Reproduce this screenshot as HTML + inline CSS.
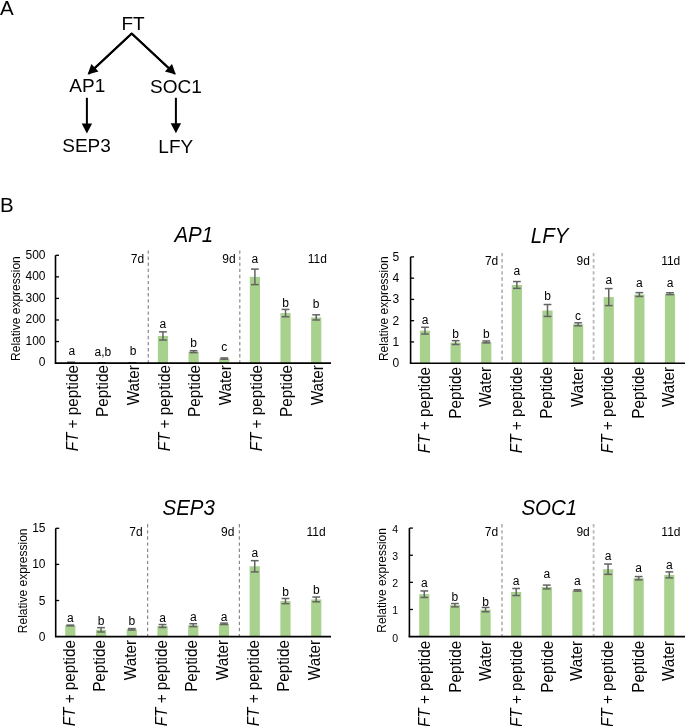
<!DOCTYPE html>
<html><head><meta charset="utf-8"><style>
html,body{margin:0;padding:0;background:#fff;}
body{width:685px;height:726px;overflow:hidden;}
svg{display:block;font-family:"Liberation Sans", sans-serif;will-change:transform;}
</style></head><body>
<svg width="685" height="726" viewBox="0 0 685 726">
<rect width="685" height="726" fill="#fff"/>
<text x="0" y="14.5" text-anchor="start" style="font-size:20.5px;" fill="#000">A</text>
<text x="0" y="211.8" text-anchor="start" style="font-size:20.5px;" fill="#000">B</text>
<text x="133.1" y="29.7" text-anchor="middle" style="font-size:19px;" fill="#000">FT</text>
<text x="87.3" y="92.3" text-anchor="middle" style="font-size:19px;" fill="#000">AP1</text>
<text x="175.9" y="92.5" text-anchor="middle" style="font-size:19px;" fill="#000">SOC1</text>
<text x="86.5" y="152.3" text-anchor="middle" style="font-size:19px;" fill="#000">SEP3</text>
<text x="175.8" y="153.0" text-anchor="middle" style="font-size:19px;" fill="#000">LFY</text>
<path d="M88.5,74 L131.7,33.6 L175,74" fill="none" stroke="#000" stroke-width="2" stroke-linejoin="miter" stroke-miterlimit="10" />
<line x1="131.7" y1="33.6" x2="94.19141381189735" y2="68.4719282020909" stroke="#000" stroke-width="2" stroke-linecap="butt"/>
<polygon points="87.6,74.6 91.3831294188718,63.982658911004755 98.46445682978897,71.59940376030836" fill="#000"/>
<line x1="131.7" y1="33.6" x2="169.20858618810266" y2="68.4719282020909" stroke="#000" stroke-width="2" stroke-linecap="butt"/>
<polygon points="175.8,74.6 164.93554317021102,71.59940376030836 172.01687058112822,63.982658911004755" fill="#000"/>
<line x1="86.9" y1="97.8" x2="86.9" y2="124.4" stroke="#000" stroke-width="2" stroke-linecap="butt"/>
<polygon points="86.9,133.4 81.7,123.4 92.10000000000001,123.4" fill="#000"/>
<line x1="175.9" y1="97.8" x2="175.9" y2="124.30000000000001" stroke="#000" stroke-width="2" stroke-linecap="butt"/>
<polygon points="175.9,133.3 170.70000000000002,123.30000000000001 181.1,123.30000000000001" fill="#000"/>
<text x="0" y="0" text-anchor="middle" style="font-size:20.5px;font-style:italic;" fill="#000" transform="translate(193.8 241.5) scale(1 1.06)">AP1</text>
<text x="19.8" y="308.6" text-anchor="middle" style="font-size:12px;" fill="#000" transform="rotate(-90 19.8 308.6)">Relative expression</text>
<line x1="148.3" y1="250.4" x2="148.3" y2="363.1" stroke="#8a8a8a" stroke-width="1.2" stroke-dasharray="3.4,2.7"/>
<line x1="239.8" y1="250.4" x2="239.8" y2="363.1" stroke="#8a8a8a" stroke-width="1.2" stroke-dasharray="3.4,2.7"/>
<rect x="65.90" y="362.45" width="10.2" height="0.65" fill="#a9d18e"/>
<line x1="71.00" y1="362.24" x2="71.00" y2="362.67" stroke="#636363" stroke-width="1.5"/>
<line x1="67.10" y1="362.24" x2="74.90" y2="362.24" stroke="#636363" stroke-width="1.5"/>
<line x1="67.10" y1="362.67" x2="74.90" y2="362.67" stroke="#636363" stroke-width="1.5"/>
<text x="71.90" y="354.7" text-anchor="middle" style="font-size:12px;" fill="#000">a</text>
<text x="0" y="0" text-anchor="end" style="font-size:15.3px;" fill="#000" transform="translate(77.70 365.10) rotate(-90) scale(1 1.05)"><tspan style="font-style:italic">FT</tspan> + peptide</text>
<rect x="96.55" y="362.88" width="10.2" height="0.22" fill="#a9d18e"/>
<line x1="101.65" y1="362.78" x2="101.65" y2="362.99" stroke="#636363" stroke-width="1.5"/>
<line x1="97.75" y1="362.78" x2="105.55" y2="362.78" stroke="#636363" stroke-width="1.5"/>
<line x1="97.75" y1="362.99" x2="105.55" y2="362.99" stroke="#636363" stroke-width="1.5"/>
<text x="102.95" y="355.5" text-anchor="middle" style="font-size:12px;" fill="#000">a,b</text>
<text x="0" y="0" text-anchor="end" style="font-size:15.3px;" fill="#000" transform="translate(108.35 365.10) rotate(-90) scale(1 1.05)">Peptide</text>
<rect x="127.20" y="362.88" width="10.2" height="0.22" fill="#a9d18e"/>
<line x1="132.30" y1="362.78" x2="132.30" y2="362.99" stroke="#636363" stroke-width="1.5"/>
<line x1="128.40" y1="362.78" x2="136.20" y2="362.78" stroke="#636363" stroke-width="1.5"/>
<line x1="128.40" y1="362.99" x2="136.20" y2="362.99" stroke="#636363" stroke-width="1.5"/>
<text x="133.10" y="354.7" text-anchor="middle" style="font-size:12px;" fill="#000">b</text>
<text x="0" y="0" text-anchor="end" style="font-size:15.3px;" fill="#000" transform="translate(139.00 365.10) rotate(-90) scale(1 1.05)">Water</text>
<rect x="157.85" y="335.93" width="10.2" height="27.17" fill="#a9d18e"/>
<line x1="162.95" y1="331.84" x2="162.95" y2="340.03" stroke="#636363" stroke-width="1.5"/>
<line x1="159.05" y1="331.84" x2="166.85" y2="331.84" stroke="#636363" stroke-width="1.5"/>
<line x1="159.05" y1="340.03" x2="166.85" y2="340.03" stroke="#636363" stroke-width="1.5"/>
<text x="162.95" y="328.09999999999997" text-anchor="middle" style="font-size:12px;" fill="#000">a</text>
<text x="0" y="0" text-anchor="end" style="font-size:15.3px;" fill="#000" transform="translate(169.65 365.10) rotate(-90) scale(1 1.05)"><tspan style="font-style:italic">FT</tspan> + peptide</text>
<rect x="188.50" y="351.67" width="10.2" height="11.43" fill="#a9d18e"/>
<line x1="193.60" y1="350.70" x2="193.60" y2="352.64" stroke="#636363" stroke-width="1.5"/>
<line x1="189.70" y1="350.70" x2="197.50" y2="350.70" stroke="#636363" stroke-width="1.5"/>
<line x1="189.70" y1="352.64" x2="197.50" y2="352.64" stroke="#636363" stroke-width="1.5"/>
<text x="193.60" y="346.5" text-anchor="middle" style="font-size:12px;" fill="#000">b</text>
<text x="0" y="0" text-anchor="end" style="font-size:15.3px;" fill="#000" transform="translate(200.30 365.10) rotate(-90) scale(1 1.05)">Peptide</text>
<rect x="219.15" y="358.57" width="10.2" height="4.53" fill="#a9d18e"/>
<line x1="224.25" y1="357.93" x2="224.25" y2="359.22" stroke="#636363" stroke-width="1.5"/>
<line x1="220.35" y1="357.93" x2="228.15" y2="357.93" stroke="#636363" stroke-width="1.5"/>
<line x1="220.35" y1="359.22" x2="228.15" y2="359.22" stroke="#636363" stroke-width="1.5"/>
<text x="224.25" y="351.0" text-anchor="middle" style="font-size:12px;" fill="#000">c</text>
<text x="0" y="0" text-anchor="end" style="font-size:15.3px;" fill="#000" transform="translate(230.95 365.10) rotate(-90) scale(1 1.05)">Water</text>
<rect x="249.80" y="276.86" width="10.2" height="86.24" fill="#a9d18e"/>
<line x1="254.90" y1="269.10" x2="254.90" y2="284.62" stroke="#636363" stroke-width="1.5"/>
<line x1="251.00" y1="269.10" x2="258.80" y2="269.10" stroke="#636363" stroke-width="1.5"/>
<line x1="251.00" y1="284.62" x2="258.80" y2="284.62" stroke="#636363" stroke-width="1.5"/>
<text x="254.90" y="263.09999999999997" text-anchor="middle" style="font-size:12px;" fill="#000">a</text>
<text x="0" y="0" text-anchor="end" style="font-size:15.3px;" fill="#000" transform="translate(261.60 365.10) rotate(-90) scale(1 1.05)"><tspan style="font-style:italic">FT</tspan> + peptide</text>
<rect x="280.45" y="313.08" width="10.2" height="50.02" fill="#a9d18e"/>
<line x1="285.55" y1="309.42" x2="285.55" y2="316.75" stroke="#636363" stroke-width="1.5"/>
<line x1="281.65" y1="309.42" x2="289.45" y2="309.42" stroke="#636363" stroke-width="1.5"/>
<line x1="281.65" y1="316.75" x2="289.45" y2="316.75" stroke="#636363" stroke-width="1.5"/>
<text x="285.55" y="306.7" text-anchor="middle" style="font-size:12px;" fill="#000">b</text>
<text x="0" y="0" text-anchor="end" style="font-size:15.3px;" fill="#000" transform="translate(292.25 365.10) rotate(-90) scale(1 1.05)">Peptide</text>
<rect x="311.10" y="317.39" width="10.2" height="45.71" fill="#a9d18e"/>
<line x1="316.20" y1="314.81" x2="316.20" y2="319.98" stroke="#636363" stroke-width="1.5"/>
<line x1="312.30" y1="314.81" x2="320.10" y2="314.81" stroke="#636363" stroke-width="1.5"/>
<line x1="312.30" y1="319.98" x2="320.10" y2="319.98" stroke="#636363" stroke-width="1.5"/>
<text x="316.20" y="307.7" text-anchor="middle" style="font-size:12px;" fill="#000">b</text>
<text x="0" y="0" text-anchor="end" style="font-size:15.3px;" fill="#000" transform="translate(322.90 365.10) rotate(-90) scale(1 1.05)">Water</text>
<line x1="55.5" y1="255.3" x2="55.5" y2="363.6" stroke="#000" stroke-width="1.6"/>
<line x1="54.8" y1="363.1" x2="331" y2="363.1" stroke="#000" stroke-width="1.6"/>
<text x="45.5" y="366.30" text-anchor="end" style="font-size:12px;" fill="#000">0</text>
<line x1="55.5" y1="341.54" x2="59.0" y2="341.54" stroke="#000" stroke-width="1.3"/>
<text x="45.5" y="344.74" text-anchor="end" style="font-size:12px;" fill="#000">100</text>
<line x1="55.5" y1="319.98" x2="59.0" y2="319.98" stroke="#000" stroke-width="1.3"/>
<text x="45.5" y="323.18" text-anchor="end" style="font-size:12px;" fill="#000">200</text>
<line x1="55.5" y1="298.42" x2="59.0" y2="298.42" stroke="#000" stroke-width="1.3"/>
<text x="45.5" y="301.62" text-anchor="end" style="font-size:12px;" fill="#000">300</text>
<line x1="55.5" y1="276.86" x2="59.0" y2="276.86" stroke="#000" stroke-width="1.3"/>
<text x="45.5" y="280.06" text-anchor="end" style="font-size:12px;" fill="#000">400</text>
<line x1="55.5" y1="255.30" x2="59.0" y2="255.30" stroke="#000" stroke-width="1.3"/>
<text x="45.5" y="258.50" text-anchor="end" style="font-size:12px;" fill="#000">500</text>
<text x="144.2" y="263.3" text-anchor="end" style="font-size:12px;" fill="#000">7d</text>
<text x="235.7" y="263.3" text-anchor="end" style="font-size:12px;" fill="#000">9d</text>
<text x="326.9" y="263.3" text-anchor="end" style="font-size:12px;" fill="#000">11d</text>
<text x="0" y="0" text-anchor="middle" style="font-size:20.5px;font-style:italic;" fill="#000" transform="translate(549.6 242.6) scale(1 1.06)">LFY</text>
<text x="387.8" y="308.75" text-anchor="middle" style="font-size:12px;" fill="#000" transform="rotate(-90 387.8 308.75)">Relative expression</text>
<line x1="502.1" y1="252.9" x2="502.1" y2="363.2" stroke="#b8b8b8" stroke-width="1.8" stroke-dasharray="3.4,2.7"/>
<line x1="593.6" y1="252.9" x2="593.6" y2="363.2" stroke="#b8b8b8" stroke-width="1.8" stroke-dasharray="3.4,2.7"/>
<rect x="419.90" y="330.67" width="10.2" height="32.53" fill="#a9d18e"/>
<line x1="425.00" y1="327.27" x2="425.00" y2="334.07" stroke="#636363" stroke-width="1.5"/>
<line x1="421.10" y1="327.27" x2="428.90" y2="327.27" stroke="#636363" stroke-width="1.5"/>
<line x1="421.10" y1="334.07" x2="428.90" y2="334.07" stroke="#636363" stroke-width="1.5"/>
<text x="425.00" y="324.3" text-anchor="middle" style="font-size:12px;" fill="#000">a</text>
<text x="0" y="0" text-anchor="end" style="font-size:15.3px;" fill="#000" transform="translate(430.10 366.90) rotate(-90) scale(1 1.05)"><tspan style="font-style:italic">FT</tspan> + peptide</text>
<rect x="450.52" y="342.58" width="10.2" height="20.62" fill="#a9d18e"/>
<line x1="455.62" y1="340.66" x2="455.62" y2="344.49" stroke="#636363" stroke-width="1.5"/>
<line x1="451.73" y1="340.66" x2="459.52" y2="340.66" stroke="#636363" stroke-width="1.5"/>
<line x1="451.73" y1="344.49" x2="459.52" y2="344.49" stroke="#636363" stroke-width="1.5"/>
<text x="455.62" y="337.8" text-anchor="middle" style="font-size:12px;" fill="#000">b</text>
<text x="0" y="0" text-anchor="end" style="font-size:15.3px;" fill="#000" transform="translate(460.83 366.90) rotate(-90) scale(1 1.05)">Peptide</text>
<rect x="481.15" y="341.94" width="10.2" height="21.26" fill="#a9d18e"/>
<line x1="486.25" y1="340.98" x2="486.25" y2="342.90" stroke="#636363" stroke-width="1.5"/>
<line x1="482.35" y1="340.98" x2="490.15" y2="340.98" stroke="#636363" stroke-width="1.5"/>
<line x1="482.35" y1="342.90" x2="490.15" y2="342.90" stroke="#636363" stroke-width="1.5"/>
<text x="486.25" y="337.8" text-anchor="middle" style="font-size:12px;" fill="#000">b</text>
<text x="0" y="0" text-anchor="end" style="font-size:15.3px;" fill="#000" transform="translate(491.15 366.90) rotate(-90) scale(1 1.05)">Water</text>
<rect x="511.77" y="284.96" width="10.2" height="78.24" fill="#a9d18e"/>
<line x1="516.88" y1="281.56" x2="516.88" y2="288.36" stroke="#636363" stroke-width="1.5"/>
<line x1="512.98" y1="281.56" x2="520.77" y2="281.56" stroke="#636363" stroke-width="1.5"/>
<line x1="512.98" y1="288.36" x2="520.77" y2="288.36" stroke="#636363" stroke-width="1.5"/>
<text x="516.88" y="275.2" text-anchor="middle" style="font-size:12px;" fill="#000">a</text>
<text x="0" y="0" text-anchor="end" style="font-size:15.3px;" fill="#000" transform="translate(522.18 366.90) rotate(-90) scale(1 1.05)"><tspan style="font-style:italic">FT</tspan> + peptide</text>
<rect x="542.40" y="310.48" width="10.2" height="52.72" fill="#a9d18e"/>
<line x1="547.50" y1="304.52" x2="547.50" y2="316.43" stroke="#636363" stroke-width="1.5"/>
<line x1="543.60" y1="304.52" x2="551.40" y2="304.52" stroke="#636363" stroke-width="1.5"/>
<line x1="543.60" y1="316.43" x2="551.40" y2="316.43" stroke="#636363" stroke-width="1.5"/>
<text x="547.50" y="299.8" text-anchor="middle" style="font-size:12px;" fill="#000">b</text>
<text x="0" y="0" text-anchor="end" style="font-size:15.3px;" fill="#000" transform="translate(552.40 366.90) rotate(-90) scale(1 1.05)">Peptide</text>
<rect x="573.02" y="324.29" width="10.2" height="38.91" fill="#a9d18e"/>
<line x1="578.12" y1="322.81" x2="578.12" y2="325.78" stroke="#636363" stroke-width="1.5"/>
<line x1="574.23" y1="322.81" x2="582.02" y2="322.81" stroke="#636363" stroke-width="1.5"/>
<line x1="574.23" y1="325.78" x2="582.02" y2="325.78" stroke="#636363" stroke-width="1.5"/>
<text x="578.12" y="320.2" text-anchor="middle" style="font-size:12px;" fill="#000">c</text>
<text x="0" y="0" text-anchor="end" style="font-size:15.3px;" fill="#000" transform="translate(582.53 366.90) rotate(-90) scale(1 1.05)">Water</text>
<rect x="603.65" y="297.08" width="10.2" height="66.12" fill="#a9d18e"/>
<line x1="608.75" y1="288.58" x2="608.75" y2="305.59" stroke="#636363" stroke-width="1.5"/>
<line x1="604.85" y1="288.58" x2="612.65" y2="288.58" stroke="#636363" stroke-width="1.5"/>
<line x1="604.85" y1="305.59" x2="612.65" y2="305.59" stroke="#636363" stroke-width="1.5"/>
<text x="608.75" y="284.3" text-anchor="middle" style="font-size:12px;" fill="#000">a</text>
<text x="0" y="0" text-anchor="end" style="font-size:15.3px;" fill="#000" transform="translate(613.25 366.90) rotate(-90) scale(1 1.05)"><tspan style="font-style:italic">FT</tspan> + peptide</text>
<rect x="634.27" y="294.53" width="10.2" height="68.67" fill="#a9d18e"/>
<line x1="639.38" y1="292.62" x2="639.38" y2="296.44" stroke="#636363" stroke-width="1.5"/>
<line x1="635.48" y1="292.62" x2="643.27" y2="292.62" stroke="#636363" stroke-width="1.5"/>
<line x1="635.48" y1="296.44" x2="643.27" y2="296.44" stroke="#636363" stroke-width="1.5"/>
<text x="639.38" y="286.59999999999997" text-anchor="middle" style="font-size:12px;" fill="#000">a</text>
<text x="0" y="0" text-anchor="end" style="font-size:15.3px;" fill="#000" transform="translate(643.78 366.90) rotate(-90) scale(1 1.05)">Peptide</text>
<rect x="664.90" y="293.68" width="10.2" height="69.52" fill="#a9d18e"/>
<line x1="670.00" y1="292.72" x2="670.00" y2="294.64" stroke="#636363" stroke-width="1.5"/>
<line x1="666.10" y1="292.72" x2="673.90" y2="292.72" stroke="#636363" stroke-width="1.5"/>
<line x1="666.10" y1="294.64" x2="673.90" y2="294.64" stroke="#636363" stroke-width="1.5"/>
<text x="670.00" y="286.59999999999997" text-anchor="middle" style="font-size:12px;" fill="#000">a</text>
<text x="0" y="0" text-anchor="end" style="font-size:15.3px;" fill="#000" transform="translate(674.30 366.90) rotate(-90) scale(1 1.05)">Water</text>
<line x1="410.6" y1="256.9" x2="410.6" y2="363.7" stroke="#000" stroke-width="1.6"/>
<line x1="409.90000000000003" y1="363.2" x2="685" y2="363.2" stroke="#000" stroke-width="1.6"/>
<text x="399.3" y="367.10" text-anchor="end" style="font-size:12px;" fill="#000">0</text>
<line x1="410.6" y1="341.94" x2="414.1" y2="341.94" stroke="#000" stroke-width="1.3"/>
<text x="399.3" y="345.84" text-anchor="end" style="font-size:12px;" fill="#000">1</text>
<line x1="410.6" y1="320.68" x2="414.1" y2="320.68" stroke="#000" stroke-width="1.3"/>
<text x="399.3" y="324.58" text-anchor="end" style="font-size:12px;" fill="#000">2</text>
<line x1="410.6" y1="299.42" x2="414.1" y2="299.42" stroke="#000" stroke-width="1.3"/>
<text x="399.3" y="303.32" text-anchor="end" style="font-size:12px;" fill="#000">3</text>
<line x1="410.6" y1="278.16" x2="414.1" y2="278.16" stroke="#000" stroke-width="1.3"/>
<text x="399.3" y="282.06" text-anchor="end" style="font-size:12px;" fill="#000">4</text>
<line x1="410.6" y1="256.90" x2="414.1" y2="256.90" stroke="#000" stroke-width="1.3"/>
<text x="399.3" y="260.80" text-anchor="end" style="font-size:12px;" fill="#000">5</text>
<text x="498.3" y="264.8" text-anchor="end" style="font-size:12px;" fill="#000">7d</text>
<text x="589.9" y="264.8" text-anchor="end" style="font-size:12px;" fill="#000">9d</text>
<text x="680.3" y="264.8" text-anchor="end" style="font-size:12px;" fill="#000">11d</text>
<text x="0" y="0" text-anchor="middle" style="font-size:20.5px;font-style:italic;" fill="#000" transform="translate(188.7 514.6) scale(1 1.06)">SEP3</text>
<text x="26.7" y="580.85" text-anchor="middle" style="font-size:12px;" fill="#000" transform="rotate(-90 26.7 580.85)">Relative expression</text>
<line x1="147.6" y1="524.1" x2="147.6" y2="636.6" stroke="#8a8a8a" stroke-width="1.2" stroke-dasharray="3.4,2.7"/>
<line x1="239.4" y1="524.1" x2="239.4" y2="636.6" stroke="#8a8a8a" stroke-width="1.2" stroke-dasharray="3.4,2.7"/>
<rect x="65.20" y="625.48" width="10.2" height="11.12" fill="#a9d18e"/>
<line x1="70.30" y1="625.12" x2="70.30" y2="625.84" stroke="#636363" stroke-width="1.5"/>
<line x1="66.40" y1="625.12" x2="74.20" y2="625.12" stroke="#636363" stroke-width="1.5"/>
<line x1="66.40" y1="625.84" x2="74.20" y2="625.84" stroke="#636363" stroke-width="1.5"/>
<text x="70.30" y="621.6" text-anchor="middle" style="font-size:12px;" fill="#000">a</text>
<text x="0" y="0" text-anchor="end" style="font-size:15.3px;" fill="#000" transform="translate(74.70 640.00) rotate(-90) scale(1 1.05)"><tspan style="font-style:italic">FT</tspan> + peptide</text>
<rect x="95.94" y="629.81" width="10.2" height="6.79" fill="#a9d18e"/>
<line x1="101.04" y1="627.65" x2="101.04" y2="631.98" stroke="#636363" stroke-width="1.5"/>
<line x1="97.14" y1="627.65" x2="104.94" y2="627.65" stroke="#636363" stroke-width="1.5"/>
<line x1="97.14" y1="631.98" x2="104.94" y2="631.98" stroke="#636363" stroke-width="1.5"/>
<text x="101.04" y="624.6" text-anchor="middle" style="font-size:12px;" fill="#000">b</text>
<text x="0" y="0" text-anchor="end" style="font-size:15.3px;" fill="#000" transform="translate(105.35 640.00) rotate(-90) scale(1 1.05)">Peptide</text>
<rect x="126.68" y="629.31" width="10.2" height="7.29" fill="#a9d18e"/>
<line x1="131.78" y1="628.59" x2="131.78" y2="630.03" stroke="#636363" stroke-width="1.5"/>
<line x1="127.88" y1="628.59" x2="135.68" y2="628.59" stroke="#636363" stroke-width="1.5"/>
<line x1="127.88" y1="630.03" x2="135.68" y2="630.03" stroke="#636363" stroke-width="1.5"/>
<text x="131.78" y="624.5" text-anchor="middle" style="font-size:12px;" fill="#000">b</text>
<text x="0" y="0" text-anchor="end" style="font-size:15.3px;" fill="#000" transform="translate(136.00 640.00) rotate(-90) scale(1 1.05)">Water</text>
<rect x="157.42" y="625.99" width="10.2" height="10.61" fill="#a9d18e"/>
<line x1="162.52" y1="624.54" x2="162.52" y2="627.43" stroke="#636363" stroke-width="1.5"/>
<line x1="158.62" y1="624.54" x2="166.42" y2="624.54" stroke="#636363" stroke-width="1.5"/>
<line x1="158.62" y1="627.43" x2="166.42" y2="627.43" stroke="#636363" stroke-width="1.5"/>
<text x="162.52" y="622.4000000000001" text-anchor="middle" style="font-size:12px;" fill="#000">a</text>
<text x="0" y="0" text-anchor="end" style="font-size:15.3px;" fill="#000" transform="translate(166.65 640.00) rotate(-90) scale(1 1.05)"><tspan style="font-style:italic">FT</tspan> + peptide</text>
<rect x="188.16" y="625.19" width="10.2" height="11.41" fill="#a9d18e"/>
<line x1="193.26" y1="623.75" x2="193.26" y2="626.64" stroke="#636363" stroke-width="1.5"/>
<line x1="189.36" y1="623.75" x2="197.16" y2="623.75" stroke="#636363" stroke-width="1.5"/>
<line x1="189.36" y1="626.64" x2="197.16" y2="626.64" stroke="#636363" stroke-width="1.5"/>
<text x="193.26" y="620.7" text-anchor="middle" style="font-size:12px;" fill="#000">a</text>
<text x="0" y="0" text-anchor="end" style="font-size:15.3px;" fill="#000" transform="translate(197.30 640.00) rotate(-90) scale(1 1.05)">Peptide</text>
<rect x="218.90" y="623.82" width="10.2" height="12.78" fill="#a9d18e"/>
<line x1="224.00" y1="623.10" x2="224.00" y2="624.54" stroke="#636363" stroke-width="1.5"/>
<line x1="220.10" y1="623.10" x2="227.90" y2="623.10" stroke="#636363" stroke-width="1.5"/>
<line x1="220.10" y1="624.54" x2="227.90" y2="624.54" stroke="#636363" stroke-width="1.5"/>
<text x="224.00" y="620.7" text-anchor="middle" style="font-size:12px;" fill="#000">a</text>
<text x="0" y="0" text-anchor="end" style="font-size:15.3px;" fill="#000" transform="translate(227.95 640.00) rotate(-90) scale(1 1.05)">Water</text>
<rect x="249.64" y="566.28" width="10.2" height="70.32" fill="#a9d18e"/>
<line x1="254.74" y1="560.65" x2="254.74" y2="571.91" stroke="#636363" stroke-width="1.5"/>
<line x1="250.84" y1="560.65" x2="258.64" y2="560.65" stroke="#636363" stroke-width="1.5"/>
<line x1="250.84" y1="571.91" x2="258.64" y2="571.91" stroke="#636363" stroke-width="1.5"/>
<text x="254.74" y="556.7" text-anchor="middle" style="font-size:12px;" fill="#000">a</text>
<text x="0" y="0" text-anchor="end" style="font-size:15.3px;" fill="#000" transform="translate(258.60 640.00) rotate(-90) scale(1 1.05)"><tspan style="font-style:italic">FT</tspan> + peptide</text>
<rect x="280.38" y="601.08" width="10.2" height="35.52" fill="#a9d18e"/>
<line x1="285.48" y1="598.48" x2="285.48" y2="603.68" stroke="#636363" stroke-width="1.5"/>
<line x1="281.58" y1="598.48" x2="289.38" y2="598.48" stroke="#636363" stroke-width="1.5"/>
<line x1="281.58" y1="603.68" x2="289.38" y2="603.68" stroke="#636363" stroke-width="1.5"/>
<text x="285.48" y="595.7" text-anchor="middle" style="font-size:12px;" fill="#000">b</text>
<text x="0" y="0" text-anchor="end" style="font-size:15.3px;" fill="#000" transform="translate(289.25 640.00) rotate(-90) scale(1 1.05)">Peptide</text>
<rect x="311.12" y="599.42" width="10.2" height="37.18" fill="#a9d18e"/>
<line x1="316.22" y1="597.03" x2="316.22" y2="601.80" stroke="#636363" stroke-width="1.5"/>
<line x1="312.32" y1="597.03" x2="320.12" y2="597.03" stroke="#636363" stroke-width="1.5"/>
<line x1="312.32" y1="601.80" x2="320.12" y2="601.80" stroke="#636363" stroke-width="1.5"/>
<text x="316.22" y="593.7" text-anchor="middle" style="font-size:12px;" fill="#000">b</text>
<text x="0" y="0" text-anchor="end" style="font-size:15.3px;" fill="#000" transform="translate(319.90 640.00) rotate(-90) scale(1 1.05)">Water</text>
<line x1="55.7" y1="528.3" x2="55.7" y2="637.1" stroke="#000" stroke-width="1.6"/>
<line x1="55.0" y1="636.6" x2="331" y2="636.6" stroke="#000" stroke-width="1.6"/>
<text x="45.5" y="640.60" text-anchor="end" style="font-size:12px;" fill="#000">0</text>
<line x1="55.7" y1="600.50" x2="59.2" y2="600.50" stroke="#000" stroke-width="1.3"/>
<text x="45.5" y="604.50" text-anchor="end" style="font-size:12px;" fill="#000">5</text>
<line x1="55.7" y1="564.40" x2="59.2" y2="564.40" stroke="#000" stroke-width="1.3"/>
<text x="45.5" y="568.40" text-anchor="end" style="font-size:12px;" fill="#000">10</text>
<line x1="55.7" y1="528.30" x2="59.2" y2="528.30" stroke="#000" stroke-width="1.3"/>
<text x="45.5" y="532.30" text-anchor="end" style="font-size:12px;" fill="#000">15</text>
<text x="142.7" y="535.9" text-anchor="end" style="font-size:12px;" fill="#000">7d</text>
<text x="234.4" y="535.9" text-anchor="end" style="font-size:12px;" fill="#000">9d</text>
<text x="325.7" y="535.9" text-anchor="end" style="font-size:12px;" fill="#000">11d</text>
<text x="0" y="0" text-anchor="middle" style="font-size:20.5px;font-style:italic;" fill="#000" transform="translate(549.3 515.0) scale(1 1.06)">SOC1</text>
<text x="386.1" y="580.4" text-anchor="middle" style="font-size:12px;" fill="#000" transform="rotate(-90 386.1 580.4)">Relative expression</text>
<line x1="502.0" y1="524.1" x2="502.0" y2="636.6" stroke="#b8b8b8" stroke-width="1.8" stroke-dasharray="3.4,2.7"/>
<line x1="593.6" y1="524.1" x2="593.6" y2="636.6" stroke="#b8b8b8" stroke-width="1.8" stroke-dasharray="3.4,2.7"/>
<rect x="419.20" y="594.20" width="10.2" height="42.40" fill="#a9d18e"/>
<line x1="424.30" y1="590.95" x2="424.30" y2="597.46" stroke="#636363" stroke-width="1.5"/>
<line x1="420.40" y1="590.95" x2="428.20" y2="590.95" stroke="#636363" stroke-width="1.5"/>
<line x1="420.40" y1="597.46" x2="428.20" y2="597.46" stroke="#636363" stroke-width="1.5"/>
<text x="424.30" y="586.7" text-anchor="middle" style="font-size:12px;" fill="#000">a</text>
<text x="0" y="0" text-anchor="end" style="font-size:15.3px;" fill="#000" transform="translate(429.90 640.80) rotate(-90) scale(1 1.05)"><tspan style="font-style:italic">FT</tspan> + peptide</text>
<rect x="449.82" y="605.19" width="10.2" height="31.41" fill="#a9d18e"/>
<line x1="454.93" y1="603.56" x2="454.93" y2="606.82" stroke="#636363" stroke-width="1.5"/>
<line x1="451.03" y1="603.56" x2="458.82" y2="603.56" stroke="#636363" stroke-width="1.5"/>
<line x1="451.03" y1="606.82" x2="458.82" y2="606.82" stroke="#636363" stroke-width="1.5"/>
<text x="454.93" y="600.7" text-anchor="middle" style="font-size:12px;" fill="#000">b</text>
<text x="0" y="0" text-anchor="end" style="font-size:15.3px;" fill="#000" transform="translate(460.53 640.80) rotate(-90) scale(1 1.05)">Peptide</text>
<rect x="480.45" y="609.61" width="10.2" height="26.99" fill="#a9d18e"/>
<line x1="485.55" y1="607.44" x2="485.55" y2="611.78" stroke="#636363" stroke-width="1.5"/>
<line x1="481.65" y1="607.44" x2="489.45" y2="607.44" stroke="#636363" stroke-width="1.5"/>
<line x1="481.65" y1="611.78" x2="489.45" y2="611.78" stroke="#636363" stroke-width="1.5"/>
<text x="485.55" y="605.7" text-anchor="middle" style="font-size:12px;" fill="#000">b</text>
<text x="0" y="0" text-anchor="end" style="font-size:15.3px;" fill="#000" transform="translate(491.35 640.80) rotate(-90) scale(1 1.05)">Water</text>
<rect x="511.07" y="592.01" width="10.2" height="44.59" fill="#a9d18e"/>
<line x1="516.17" y1="588.48" x2="516.17" y2="595.53" stroke="#636363" stroke-width="1.5"/>
<line x1="512.27" y1="588.48" x2="520.07" y2="588.48" stroke="#636363" stroke-width="1.5"/>
<line x1="512.27" y1="595.53" x2="520.07" y2="595.53" stroke="#636363" stroke-width="1.5"/>
<text x="516.17" y="584.5" text-anchor="middle" style="font-size:12px;" fill="#000">a</text>
<text x="0" y="0" text-anchor="end" style="font-size:15.3px;" fill="#000" transform="translate(522.27 640.80) rotate(-90) scale(1 1.05)"><tspan style="font-style:italic">FT</tspan> + peptide</text>
<rect x="541.70" y="586.99" width="10.2" height="49.61" fill="#a9d18e"/>
<line x1="546.80" y1="585.09" x2="546.80" y2="588.89" stroke="#636363" stroke-width="1.5"/>
<line x1="542.90" y1="585.09" x2="550.70" y2="585.09" stroke="#636363" stroke-width="1.5"/>
<line x1="542.90" y1="588.89" x2="550.70" y2="588.89" stroke="#636363" stroke-width="1.5"/>
<text x="546.80" y="578.2" text-anchor="middle" style="font-size:12px;" fill="#000">a</text>
<text x="0" y="0" text-anchor="end" style="font-size:15.3px;" fill="#000" transform="translate(552.60 640.80) rotate(-90) scale(1 1.05)">Peptide</text>
<rect x="572.32" y="590.41" width="10.2" height="46.19" fill="#a9d18e"/>
<line x1="577.42" y1="589.73" x2="577.42" y2="591.08" stroke="#636363" stroke-width="1.5"/>
<line x1="573.52" y1="589.73" x2="581.32" y2="589.73" stroke="#636363" stroke-width="1.5"/>
<line x1="573.52" y1="591.08" x2="581.32" y2="591.08" stroke="#636363" stroke-width="1.5"/>
<text x="577.42" y="585.3000000000001" text-anchor="middle" style="font-size:12px;" fill="#000">a</text>
<text x="0" y="0" text-anchor="end" style="font-size:15.3px;" fill="#000" transform="translate(582.42 640.80) rotate(-90) scale(1 1.05)">Water</text>
<rect x="602.95" y="569.19" width="10.2" height="67.41" fill="#a9d18e"/>
<line x1="608.05" y1="564.04" x2="608.05" y2="574.35" stroke="#636363" stroke-width="1.5"/>
<line x1="604.15" y1="564.04" x2="611.95" y2="564.04" stroke="#636363" stroke-width="1.5"/>
<line x1="604.15" y1="574.35" x2="611.95" y2="574.35" stroke="#636363" stroke-width="1.5"/>
<text x="608.05" y="560.2" text-anchor="middle" style="font-size:12px;" fill="#000">a</text>
<text x="0" y="0" text-anchor="end" style="font-size:15.3px;" fill="#000" transform="translate(613.35 640.80) rotate(-90) scale(1 1.05)"><tspan style="font-style:italic">FT</tspan> + peptide</text>
<rect x="633.57" y="578.20" width="10.2" height="58.40" fill="#a9d18e"/>
<line x1="638.67" y1="576.57" x2="638.67" y2="579.83" stroke="#636363" stroke-width="1.5"/>
<line x1="634.77" y1="576.57" x2="642.57" y2="576.57" stroke="#636363" stroke-width="1.5"/>
<line x1="634.77" y1="579.83" x2="642.57" y2="579.83" stroke="#636363" stroke-width="1.5"/>
<text x="638.67" y="571.5" text-anchor="middle" style="font-size:12px;" fill="#000">a</text>
<text x="0" y="0" text-anchor="end" style="font-size:15.3px;" fill="#000" transform="translate(644.48 640.80) rotate(-90) scale(1 1.05)">Peptide</text>
<rect x="664.20" y="574.89" width="10.2" height="61.71" fill="#a9d18e"/>
<line x1="669.30" y1="571.91" x2="669.30" y2="577.87" stroke="#636363" stroke-width="1.5"/>
<line x1="665.40" y1="571.91" x2="673.20" y2="571.91" stroke="#636363" stroke-width="1.5"/>
<line x1="665.40" y1="577.87" x2="673.20" y2="577.87" stroke="#636363" stroke-width="1.5"/>
<text x="669.30" y="568.7" text-anchor="middle" style="font-size:12px;" fill="#000">a</text>
<text x="0" y="0" text-anchor="end" style="font-size:15.3px;" fill="#000" transform="translate(674.20 640.80) rotate(-90) scale(1 1.05)">Water</text>
<line x1="409.4" y1="528.1" x2="409.4" y2="637.1" stroke="#000" stroke-width="1.6"/>
<line x1="408.7" y1="636.6" x2="685" y2="636.6" stroke="#000" stroke-width="1.6"/>
<text x="398" y="641.60" text-anchor="end" style="font-size:10.5px;" fill="#000">0</text>
<line x1="409.4" y1="609.48" x2="412.9" y2="609.48" stroke="#000" stroke-width="1.3"/>
<text x="398" y="614.48" text-anchor="end" style="font-size:10.5px;" fill="#000">1</text>
<line x1="409.4" y1="582.35" x2="412.9" y2="582.35" stroke="#000" stroke-width="1.3"/>
<text x="398" y="587.35" text-anchor="end" style="font-size:10.5px;" fill="#000">2</text>
<line x1="409.4" y1="555.23" x2="412.9" y2="555.23" stroke="#000" stroke-width="1.3"/>
<text x="398" y="560.23" text-anchor="end" style="font-size:10.5px;" fill="#000">3</text>
<line x1="409.4" y1="528.10" x2="412.9" y2="528.10" stroke="#000" stroke-width="1.3"/>
<text x="398" y="533.10" text-anchor="end" style="font-size:10.5px;" fill="#000">4</text>
<text x="498.1" y="535.7" text-anchor="end" style="font-size:12px;" fill="#000">7d</text>
<text x="589.8" y="535.7" text-anchor="end" style="font-size:12px;" fill="#000">9d</text>
<text x="680.5" y="535.7" text-anchor="end" style="font-size:12px;" fill="#000">11d</text>
</svg>
</body></html>
